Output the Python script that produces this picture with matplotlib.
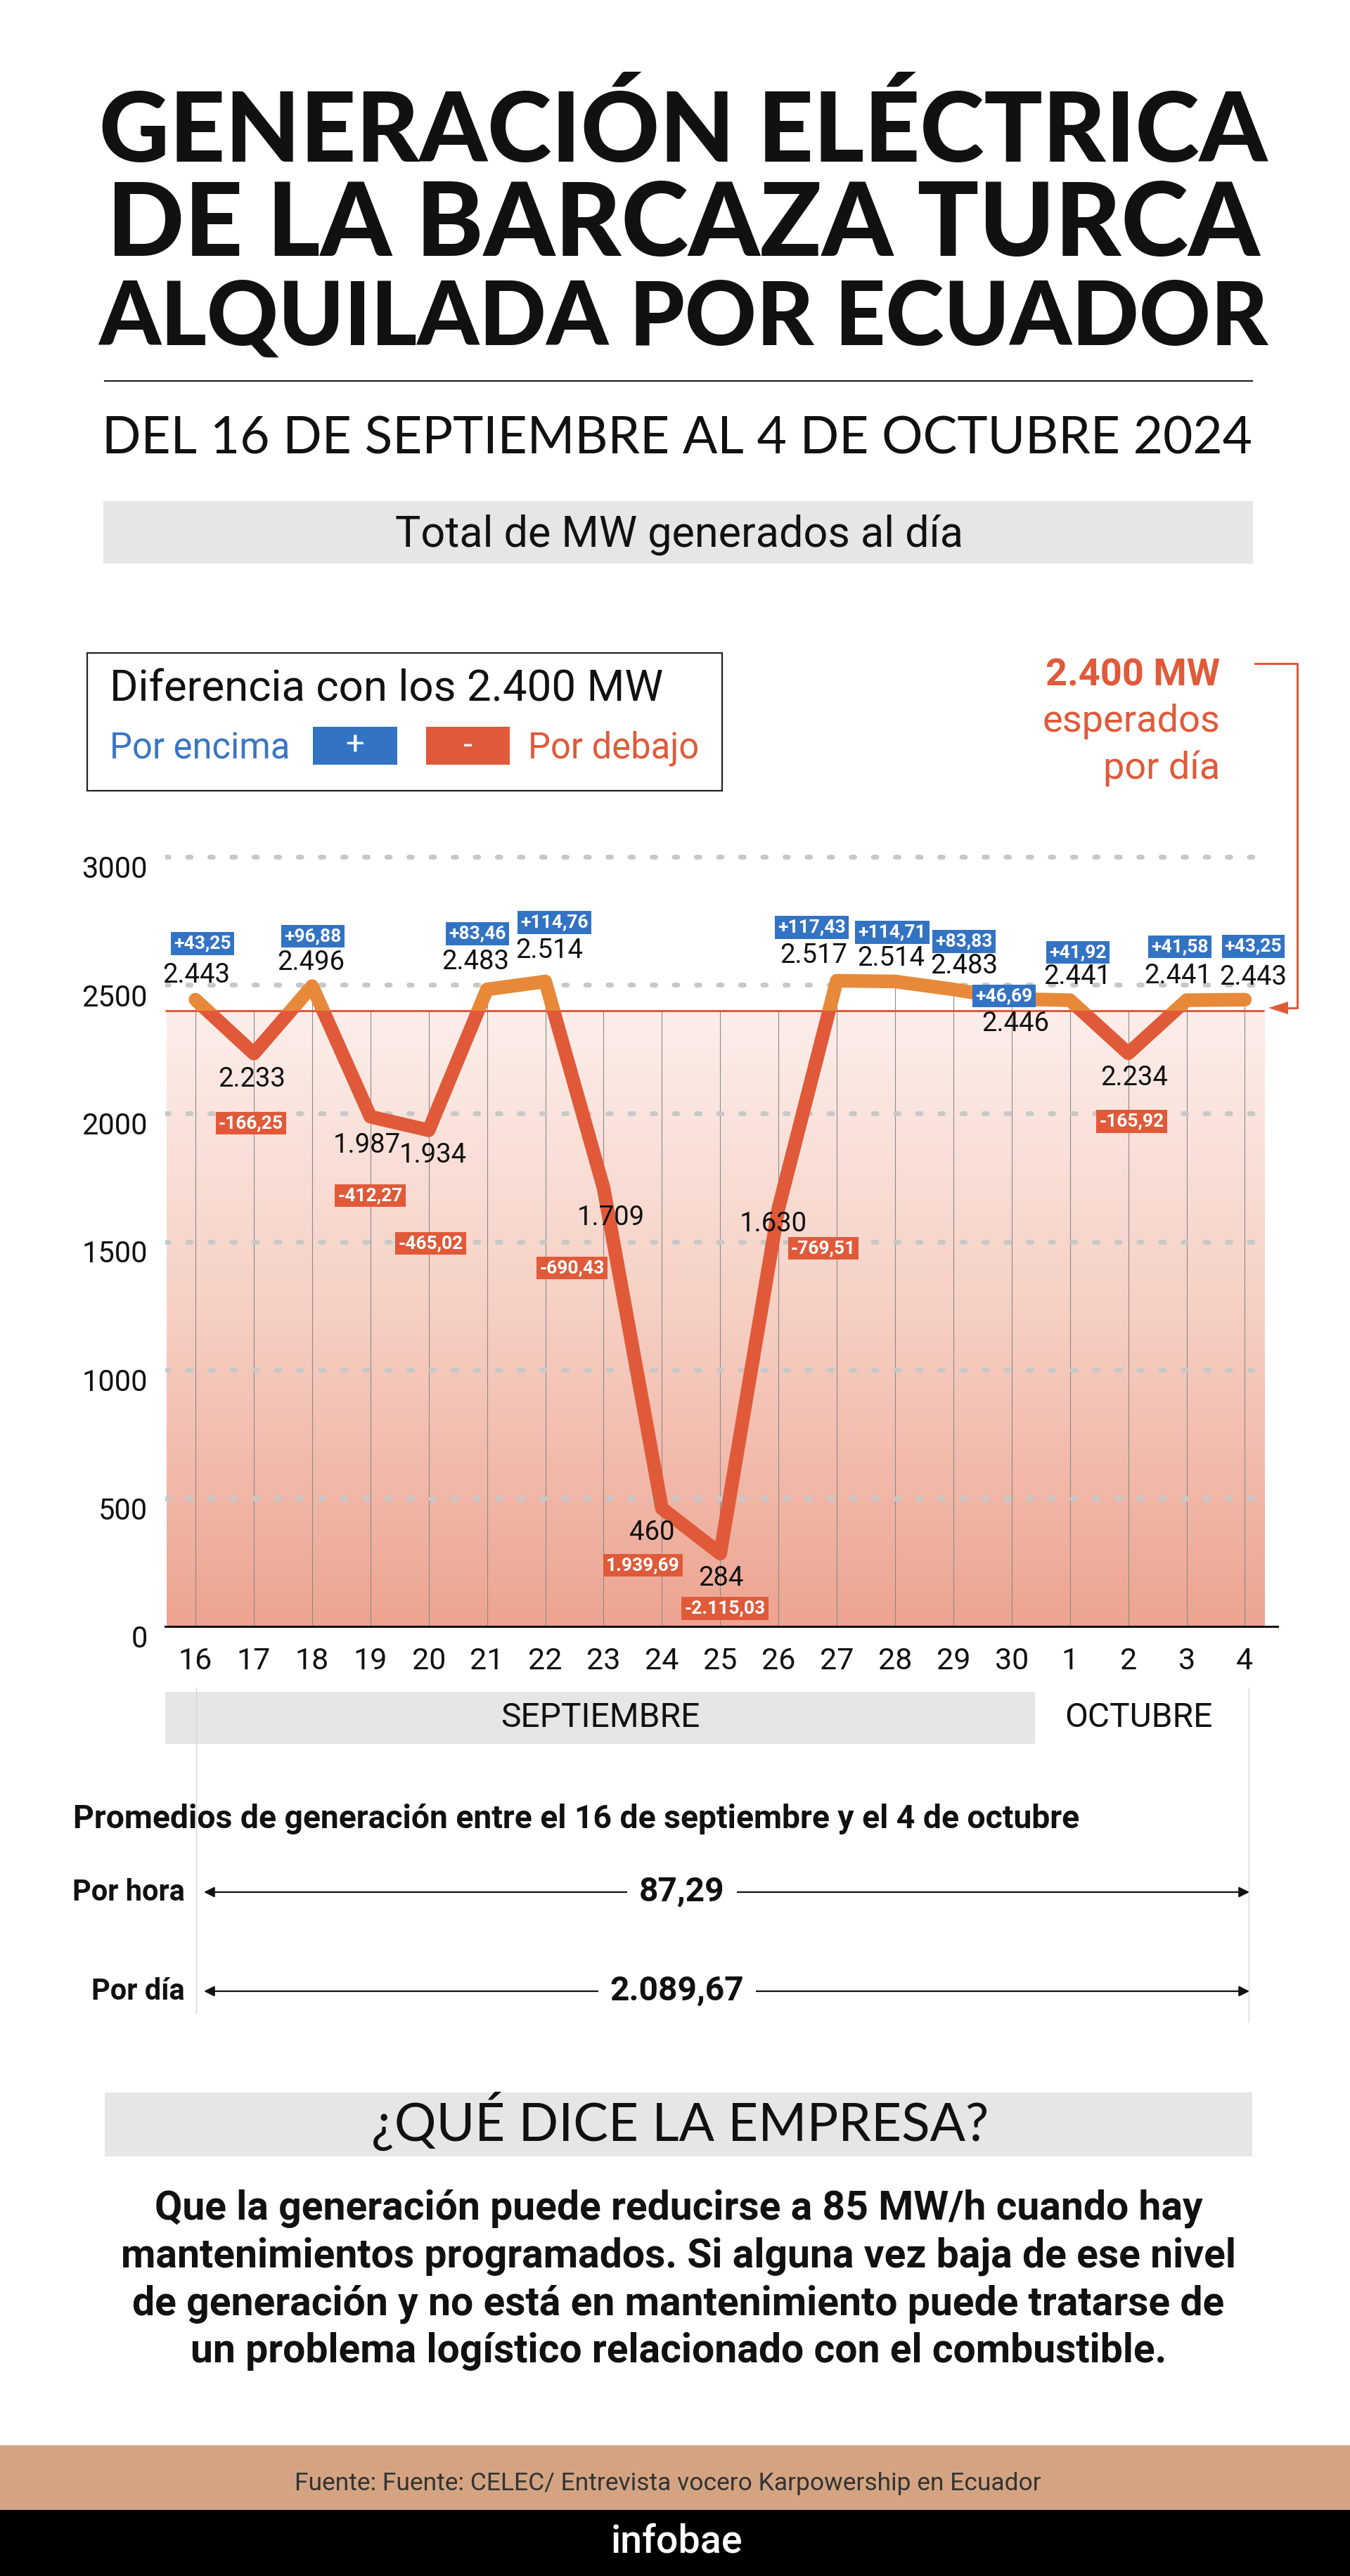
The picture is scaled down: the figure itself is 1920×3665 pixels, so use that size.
import numpy as np
import matplotlib
matplotlib.use("Agg")
import matplotlib.pyplot as plt
from matplotlib.patches import Rectangle, Polygon
from matplotlib.colors import LinearSegmentedColormap
from matplotlib.transforms import Bbox, TransformedBbox, ScaledTranslation

plt.rcParams['font.family'] = ['Roboto', 'DejaVu Sans']

# ---- data ----
days = ['16', '17', '18', '19', '20', '21', '22', '23', '24', '25', '26',
        '27', '28', '29', '30', '1', '2', '3', '4']
mw_per_day = [2443, 2233, 2496, 1987, 1934, 2483, 2514, 1709, 460, 284, 1630,
              2517, 2514, 2483, 2446, 2441, 2234, 2441, 2443]
diff_labels = ['+43,25', '-166,25', '+96,88', '-412,27', '-465,02', '+83,46',
               '+114,76', '-690,43', '1.939,69', '-2.115,03', '-769,51',
               '+117,43', '+114,71', '+83,83', '+46,69', '+41,92', '-165,92',
               '+41,58', '+43,25']
expected_mw = 2400
y_ticks = [0, 500, 1000, 1500, 2000, 2500, 3000]
months = ['SEPTIEMBRE', 'OCTUBRE']
avg_labels = ['Por hora', 'Por día']
avg_values = ['87,29', '2.089,67']

title_lines = ['GENERACIÓN ELÉCTRICA', 'DE LA BARCAZA TURCA', 'ALQUILADA POR ECUADOR']
subtitle = 'DEL 16 DE SEPTIEMBRE AL 4 DE OCTUBRE 2024'
company_lines = [
    'Que la generación puede reducirse a 85 MW/h cuando hay',
    'mantenimientos programados. Si alguna vez baja de ese nivel',
    'de generación y no está en mantenimiento puede tratarse de',
    'un problema logístico relacionado con el combustible.',
]

# label offsets in pixels from each point (dx, dy up)
value_offsets = [(1, 35), (-3, -37), (-2, 33), (-5, -41), (6, -35), (-16, 39),
                 (6, 44), (10, -42), (-14, -34), (1, -35), (-7, -22), (-33, 36),
                 (-6, 33), (15, 33), (5, -35), (11, 34), (9, -35), (-12, 35), (12, 32)]
diff_offsets = [(10, 80), (-4, -99), (1, 71), (0, -112), (3, -161), (-14, 79),
                (13, 84), (-45, -114), (-27, -81), (7, -78), (64, -57), (-36, 76),
                (-4, 70), (15, 68), (-11, 4), (11, 68), (5, -97), (-10, 76), (12, 76)]

RED = '#E05A3A'
ORANGE = '#E8893A'
BLUE = '#3373C4'
GRAY_BAR = '#E6E6E6'

W, H = 1920, 3665
fig = plt.figure(figsize=(W / 100, H / 100), dpi=100, facecolor='white')
renderer = fig.canvas.get_renderer()

bg = fig.add_axes([0, 0, 1, 1])
bg.set_xlim(0, W)
bg.set_ylim(H, 0)
bg.axis('off')


def fit_width(t, width):
    w = t.get_window_extent(renderer).width
    t.set_fontsize(t.get_fontsize() * width / w)


# ---- header ----
title_font = ['Lato', 'DejaVu Sans']
for line, base, width in zip(title_lines, [230, 364, 490], [1661, 1640, 1665]):
    t = bg.text(972, base, line, ha='center', va='baseline', fontsize=88,
                fontweight='black', family=title_font, color='#111111')
    fit_width(t, width)

bg.plot([149, 1781], [542, 542], color='#222222', lw=1.6)
t = bg.text(963, 645, subtitle, ha='center', va='baseline', fontsize=46,
            fontweight='normal', family=title_font, color='#111111')
fit_width(t, 1637)

bg.add_patch(Rectangle((147, 713), 1635, 89, color=GRAY_BAR, lw=0))
bg.text(966, 778, 'Total de MW generados al día', ha='center', va='baseline',
        fontsize=44, color='#111111')

# ---- legend box ----
bg.add_patch(Rectangle((124, 929), 903, 196, fill=False, ec='#222222', lw=1.6))
bg.text(156, 997, 'Diferencia con los 2.400 MW', ha='left', va='baseline',
        fontsize=44.5, color='#111111')
bg.text(156, 1079, 'Por encima', ha='left', va='baseline', fontsize=36.5, color='#3A75C4')
bg.add_patch(Rectangle((445, 1034), 120, 54, color=BLUE, lw=0))
bg.text(505, 1061, '+', ha='center', va='center', fontsize=34, color='white')
bg.add_patch(Rectangle((606, 1034), 119, 54, color=RED, lw=0))
bg.text(665, 1061, '-', ha='center', va='center', fontsize=34, color='white')
bg.text(751, 1079, 'Por debajo', ha='left', va='baseline', fontsize=36.5, color=RED)

# ---- expected annotation ----
bg.text(1735, 976, '2.400 MW', ha='right', va='baseline', fontsize=39,
        fontweight='bold', color=RED)
bg.text(1735, 1041, 'esperados', ha='right', va='baseline', fontsize=39, color=RED)
bg.text(1735, 1108, 'por día', ha='right', va='baseline', fontsize=39, color=RED)
bg.plot([1785, 1845, 1845, 1822], [944, 944, 1434, 1434], color=RED, lw=2.2)
bg.add_patch(Polygon([(1804, 1434), (1832, 1425), (1832, 1443)], closed=True,
                     color=RED, lw=0))

# ---- chart ----
ax = fig.add_axes([235 / W, 1 - 2314 / H, (1817 - 235) / W, (2314 - 1146) / H])
ax.patch.set_alpha(0)
x = np.arange(len(days))
x_left, x_fill = -0.519, 18.33

grad = np.linspace(0, 1, 256).reshape(-1, 1)
fill_cmap = LinearSegmentedColormap.from_list('fill', ['#EDA491', '#F6CFC3', '#FCEEEA'])
ax.imshow(grad, extent=[-0.5, x_fill, 0, expected_mw], origin='lower',
          aspect='auto', cmap=fill_cmap, zorder=0)

ax.vlines(x, 0, np.maximum(mw_per_day, expected_mw), color='#8A8A8A', lw=0.8, zorder=1)
ax.hlines(y_ticks[1:], x_left, 18.3, color='#C8C8C8', lw=5,
          linestyles=[(0, (0.7, 3.83))], capstyle='round', zorder=2)
ax.hlines(expected_mw, x_left, x_fill, color=RED, lw=2.2, zorder=3)

above, = ax.plot(x, mw_per_day, color=ORANGE, lw=14, solid_capstyle='round',
                 solid_joinstyle='round', zorder=4)
below, = ax.plot(x, mw_per_day, color=RED, lw=14, solid_capstyle='round',
                 solid_joinstyle='round', zorder=4)
above.set_clip_box(TransformedBbox(Bbox([[-2, expected_mw], [20, 5000]]), ax.transData))
below.set_clip_box(TransformedBbox(Bbox([[-2, -500], [20, expected_mw]]), ax.transData))

for xi, v, lab, (vdx, vdy), (ddx, ddy) in zip(x, mw_per_day, diff_labels,
                                              value_offsets, diff_offsets):
    ax.annotate(f'{v:,}'.replace(',', '.'), (xi, v), xytext=(vdx, vdy),
                textcoords='offset pixels', ha='center', va='center',
                fontsize=27.5, color='#111111', zorder=6)
    box_color = BLUE if lab.startswith('+') else RED
    ax.annotate(lab, (xi, v), xytext=(ddx, ddy), textcoords='offset pixels',
                ha='center', va='center', fontsize=19, fontweight='bold',
                color='white', zorder=7,
                bbox=dict(boxstyle='square,pad=0.16', fc=box_color, ec='none'))

ax.set_xlim(x_left, 18.561)
ax.set_ylim(0, 3200)
for side in ['top', 'right', 'left']:
    ax.spines[side].set_visible(False)
ax.spines['bottom'].set_linewidth(2.2)
ax.spines['bottom'].set_color('#111111')
ax.spines['bottom'].set_zorder(5)

ax.set_yticks(y_ticks, [str(v) for v in y_ticks])
ax.set_xticks(x, days)
ax.tick_params(axis='y', length=0, pad=18, labelsize=30, labelcolor='#111111')
ax.tick_params(axis='x', length=0, pad=21, labelsize=31, labelcolor='#111111')
shift = ScaledTranslation(0, -0.14, fig.dpi_scale_trans)
for lbl in ax.get_yticklabels():
    lbl.set_transform(lbl.get_transform() + shift)

# ---- month band ----
bg.add_patch(Rectangle((235, 2407), 1237, 74, color=GRAY_BAR, lw=0))
bg.text(854, 2444, months[0], ha='center', va='center', fontsize=34.5, color='#111111')
bg.text(1619, 2444, months[1], ha='center', va='center', fontsize=34.5, color='#111111')
bg.plot([279, 279], [2401, 2864], color='#D6D6D6', lw=1)
bg.plot([1776, 1776], [2401, 2877], color='#D6D6D6', lw=1)

# ---- averages ----
bg.text(104, 2601, 'Promedios de generación entre el 16 de septiembre y el 4 de octubre',
        ha='left', va='baseline', fontsize=33.3, fontweight='bold', color='#111111')
for lab, val, base, line_y, cx in zip(avg_labels, avg_values, [2704, 2845],
                                      [2692, 2833], [970, 963]):
    bg.text(263, base, lab, ha='right', va='baseline', fontsize=30,
            fontweight='bold', color='#111111')
    bg.annotate('', xy=(290, line_y), xytext=(1777, line_y),
                arrowprops=dict(arrowstyle='<|-|>', color='#111111', lw=1.6,
                                mutation_scale=22, shrinkA=0, shrinkB=0))
    bg.text(cx, line_y, val, ha='center', va='center', fontsize=34.5,
            fontweight='bold', color='#111111',
            bbox=dict(boxstyle='square,pad=0.35', fc='white', ec='none'))

# ---- company statement ----
bg.add_patch(Rectangle((149, 2977), 1632, 91, color=GRAY_BAR, lw=0))
t = bg.text(967, 3046, '¿QUÉ DICE LA EMPRESA?', ha='center', va='baseline',
            fontsize=42, fontweight='normal', family=title_font, color='#111111')
fit_width(t, 879)
for i, line in enumerate(company_lines):
    bg.text(965, 3157 + 68 * i, line, ha='center', va='baseline', fontsize=41,
            fontweight='bold', color='#111111')

# ---- footer ----
bg.add_patch(Rectangle((0, 3479), W, 92, color='#D4A482', lw=0))
bg.text(950, 3543, 'Fuente: Fuente: CELEC/ Entrevista vocero Karpowership en Ecuador',
        ha='center', va='baseline', fontsize=25.5, color='#333333')
bg.add_patch(Rectangle((0, 3571), W, 94, color='black', lw=0))
bg.text(962, 3616, 'infobae', ha='center', va='center', fontsize=40,
        fontweight='medium', color='white')

fig.savefig('out.png', dpi=100, facecolor='white')
